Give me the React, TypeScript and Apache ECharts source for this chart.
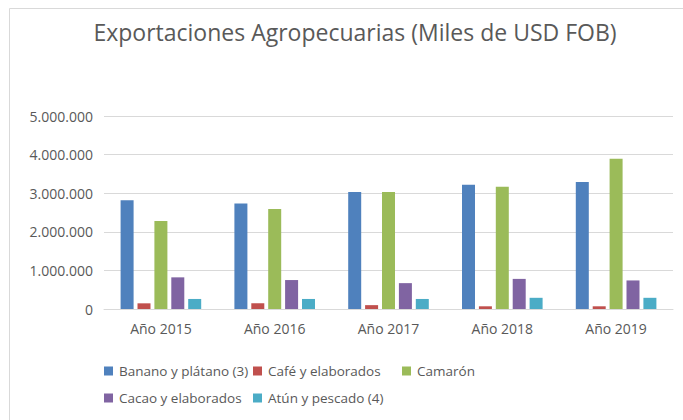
import React, { useEffect, useRef } from "react";
import * as echarts from "echarts";

const categories = ["Año 2015", "Año 2016", "Año 2017", "Año 2018", "Año 2019"];
const seriesNames = [
  "Banano y plátano (3)",
  "Café y elaborados",
  "Camarón",
  "Cacao y elaborados",
  "Atún y pescado (4)",
];
const banano = [2820000, 2730000, 3030000, 3220000, 3290000];
const cafe = [147000, 147000, 100000, 70000, 70000];
const camaron = [2280000, 2590000, 3030000, 3170000, 3890000];
const cacao = [820000, 750000, 670000, 780000, 740000];
const atun = [260000, 260000, 260000, 290000, 290000];
const seriesValues = [banano, cafe, camaron, cacao, atun];
const colors = ["#4F81BD", "#C0504D", "#9BBB59", "#8064A2", "#4BACC6"];

const FONT = '"Open Sans", sans-serif';

function fmt(v: number): string {
  return String(Math.round(v)).replace(/\B(?=(\d{3})+(?!\d))/g, ".");
}

export default function App() {
  const ref = useRef<HTMLDivElement>(null);
  useEffect(() => {
    if (!ref.current) return;
    const chart = echarts.init(ref.current, undefined, { renderer: "svg" });
    const legendPos = [
      { left: 104, top: 364 },
      { left: 253, top: 364 },
      { left: 402, top: 364 },
      { left: 104, top: 391 },
      { left: 253, top: 391 },
    ];
    chart.setOption({
      animation: false,
      backgroundColor: "#ffffff",
      title: {
        text: "Exportaciones Agropecuarias (Miles de USD FOB)",
        left: 350,
        textAlign: "center",
        top: 15,
        textStyle: {
          fontFamily: FONT,
          fontSize: 23,
          fontWeight: "normal",
          color: "#595959",
        },
      },
      graphic: [
        { type: "line", shape: { x1: 9.5, y1: 8.5, x2: 683, y2: 8.5 }, style: { stroke: "#D9D9D9", lineWidth: 1 } },
        { type: "line", shape: { x1: 9.5, y1: 8.5, x2: 9.5, y2: 420 }, style: { stroke: "#D9D9D9", lineWidth: 1 } },
      ],
      legend: seriesNames.map((n, i) => ({
        data: [n],
        left: legendPos[i].left,
        top: legendPos[i].top,
        icon: "rect",
        itemWidth: 9,
        itemHeight: 9,
        padding: 0,
        textStyle: { fontFamily: FONT, fontSize: 13.5, color: "#595959", padding: [0, 0, 0, 1] },
      })),
      grid: { left: 104, right: 10, top: 116, bottom: 111 },
      xAxis: {
        type: "category",
        data: categories,
        axisTick: { show: false },
        axisLine: { lineStyle: { color: "#D9D9D9" } },
        axisLabel: { fontFamily: FONT, fontSize: 14, color: "#595959", margin: 12 },
      },
      yAxis: {
        type: "value",
        min: 0,
        max: 5000000,
        interval: 1000000,
        axisLine: { show: false },
        axisTick: { show: false },
        splitLine: { lineStyle: { color: "#D9D9D9" } },
        axisLabel: {
          fontFamily: FONT,
          fontSize: 14,
          color: "#595959",
          margin: 11,
          formatter: (v: number) => fmt(v),
        },
      },
      series: seriesNames.map((n, i) => ({
        name: n,
        type: "bar",
        data: seriesValues[i],
        barWidth: 13,
        barGap: "30%",
        itemStyle: { color: colors[i] },
      })),
    });
    return () => chart.dispose();
  }, []);
  return (
    <div
      ref={ref}
      style={{ position: "absolute", left: 0, top: 0, width: 683, height: 420 }}
    />
  );
}
